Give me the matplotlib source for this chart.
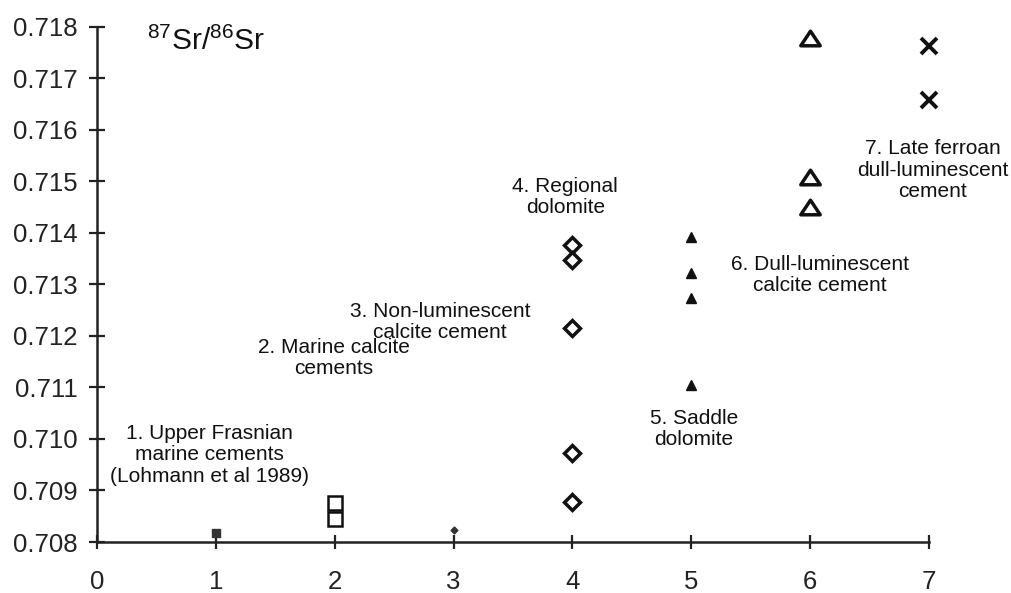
import matplotlib
matplotlib.use('Agg')
import matplotlib.pyplot as plt
from matplotlib.path import Path

plt.rcParams['font.family'] = ['Liberation Sans', 'DejaVu Sans']
plt.rcParams['mathtext.fontset'] = 'custom'
plt.rcParams['mathtext.rm'] = 'Liberation Sans'

# 87Sr/86Sr values per group (x = group number)
g1_y = [0.70817]
g2_y = [0.70876, 0.70845]
g3_y = [0.70823]
g4_y = [0.71377, 0.71348, 0.71216, 0.70973, 0.70878]
g5_y = [0.71392, 0.71322, 0.71274, 0.71105]
g6_y = [0.71779, 0.71509, 0.71450]
g7_y = [0.71763, 0.71658]

labels = [
    (0.95, 0.70969, '1. Upper Frasnian\nmarine cements\n(Lohmann et al 1989)'),
    (1.99, 0.71157, '2. Marine calcite\ncements'),
    (2.885, 0.71227, '3. Non-luminescent\ncalcite cement'),
    (3.94, 0.71470, '4. Regional\ndolomite'),
    (5.02, 0.71019, '5. Saddle\ndolomite'),
    (6.08, 0.71318, '6. Dull-luminescent\ncalcite cement'),
    (7.03, 0.71522, '7. Late ferroan\ndull-luminescent\ncement'),
]

xticks = [0, 1, 2, 3, 4, 5, 6, 7]
yticks = [0.708, 0.709, 0.710, 0.711, 0.712, 0.713, 0.714, 0.715, 0.716, 0.717, 0.718]

fig = plt.figure(figsize=(10.12, 5.93), dpi=100)
ax = fig.add_axes([0.0958, 0.086, 0.918 - 0.0958, 0.9545 - 0.086])

k = '#111111'
# wide open triangle, closed path
tri = Path([(-1, -0.75), (1, -0.75), (0, 0.75), (-1, -0.75)], closed=True)

ax.plot([1] * len(g1_y), g1_y, 's', ms=5.5, color='#333333', clip_on=False)
ax.plot([2] * len(g2_y), g2_y, 's', ms=9.7, mfc='white', mec=k, mew=1.8, clip_on=False)
ax.plot([3] * len(g3_y), g3_y, 'D', ms=3.5, color='#333333', clip_on=False)
ax.plot([4] * len(g4_y), g4_y, 'D', ms=8.5, mfc='white', mec=k, mew=2.5, clip_on=False)
ax.plot([5] * len(g5_y), g5_y, '^', ms=7, color=k, clip_on=False)
ax.plot([6] * len(g6_y), g6_y, marker=tri, ls='none', ms=14, mfc='white', mec=k, mew=2.5,
        clip_on=False)
ax.plot([7] * len(g7_y), g7_y, 'x', ms=11, mec=k, mew=2.8, clip_on=False)

for x, y, s in labels:
    ax.text(x, y, s, ha='center', va='center', fontsize=15, linespacing=1.15, color=k)

ax.text(0.42, 0.71755, r'$^{87}$Sr/$^{86}$Sr', fontsize=21.5, ha='left', va='baseline', color=k)

ax.set_xlim(0, 7)
ax.set_ylim(0.708, 0.718)
ax.set_xticks(xticks)
ax.set_xticklabels([str(v) for v in xticks])
ax.set_yticks(yticks)
ax.set_yticklabels(['%.3f' % v for v in yticks])

for s in ['top', 'right']:
    ax.spines[s].set_visible(False)
for s in ['left', 'bottom']:
    ax.spines[s].set_linewidth(1.8)
    ax.spines[s].set_color('#222222')

ax.tick_params(axis='y', direction='inout', length=11.5, width=1.6, pad=8,
               labelsize=18.5, colors='#222222')
ax.tick_params(axis='x', direction='inout', length=10, width=1.6, pad=15,
               labelsize=18.5, colors='#222222')

fig.savefig('out.png', dpi=100)
